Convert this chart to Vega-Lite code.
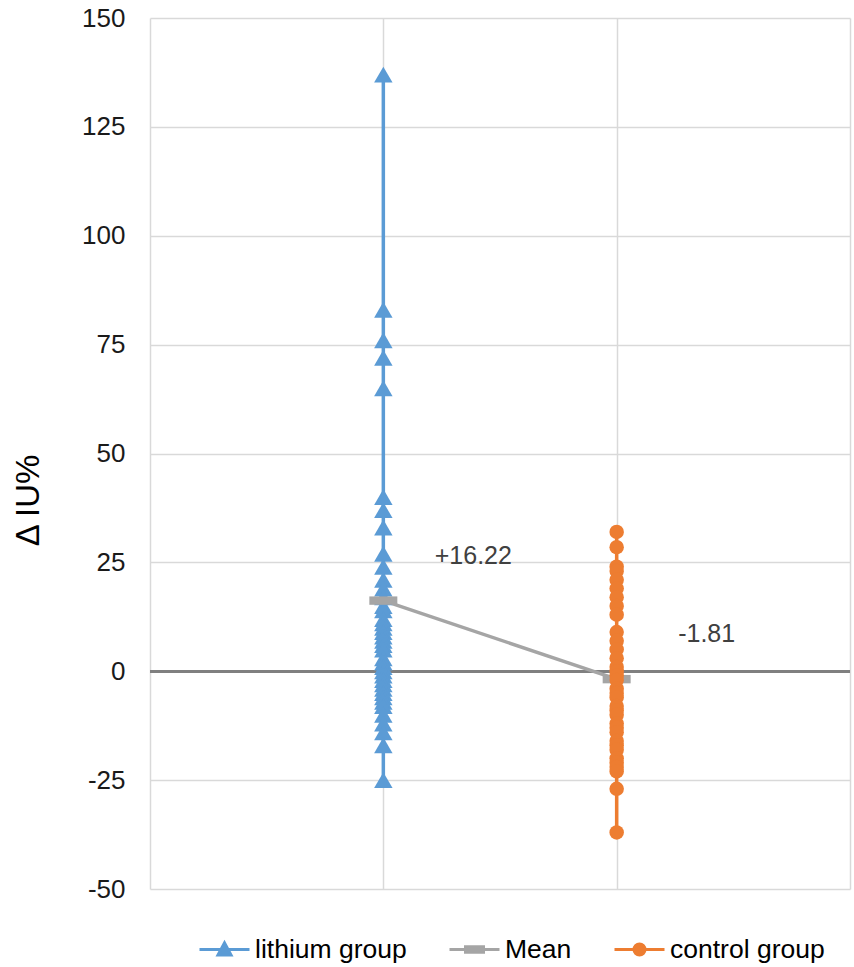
{
  "$schema": "https://vega.github.io/schema/vega-lite/v6.json",
  "autosize": {"type": "none"},
  "padding": {"left": 150, "top": 18, "right": 4, "bottom": 78},
  "width": 700,
  "height": 871,
  "config": {
    "font": "Liberation Sans",
    "view": {"stroke": null},
    "locale": {"number": {"decimal": ".", "thousands": ",", "grouping": [3], "currency": ["$", ""], "minus": "-"}}
  },
  "datasets": {
    "pts": [
      {"series": "lithium group", "group": 1, "value": 137},
      {"series": "lithium group", "group": 1, "value": 83},
      {"series": "lithium group", "group": 1, "value": 76},
      {"series": "lithium group", "group": 1, "value": 72},
      {"series": "lithium group", "group": 1, "value": 65},
      {"series": "lithium group", "group": 1, "value": 40},
      {"series": "lithium group", "group": 1, "value": 37},
      {"series": "lithium group", "group": 1, "value": 33},
      {"series": "lithium group", "group": 1, "value": 27},
      {"series": "lithium group", "group": 1, "value": 24},
      {"series": "lithium group", "group": 1, "value": 21},
      {"series": "lithium group", "group": 1, "value": 19},
      {"series": "lithium group", "group": 1, "value": 17},
      {"series": "lithium group", "group": 1, "value": 15},
      {"series": "lithium group", "group": 1, "value": 14},
      {"series": "lithium group", "group": 1, "value": 12},
      {"series": "lithium group", "group": 1, "value": 11},
      {"series": "lithium group", "group": 1, "value": 10},
      {"series": "lithium group", "group": 1, "value": 9},
      {"series": "lithium group", "group": 1, "value": 8},
      {"series": "lithium group", "group": 1, "value": 7},
      {"series": "lithium group", "group": 1, "value": 6},
      {"series": "lithium group", "group": 1, "value": 5},
      {"series": "lithium group", "group": 1, "value": 3},
      {"series": "lithium group", "group": 1, "value": 2},
      {"series": "lithium group", "group": 1, "value": 1},
      {"series": "lithium group", "group": 1, "value": 0},
      {"series": "lithium group", "group": 1, "value": -1},
      {"series": "lithium group", "group": 1, "value": -2},
      {"series": "lithium group", "group": 1, "value": -3},
      {"series": "lithium group", "group": 1, "value": -4},
      {"series": "lithium group", "group": 1, "value": -5},
      {"series": "lithium group", "group": 1, "value": -6},
      {"series": "lithium group", "group": 1, "value": -7},
      {"series": "lithium group", "group": 1, "value": -8},
      {"series": "lithium group", "group": 1, "value": -10},
      {"series": "lithium group", "group": 1, "value": -12},
      {"series": "lithium group", "group": 1, "value": -14},
      {"series": "lithium group", "group": 1, "value": -17},
      {"series": "lithium group", "group": 1, "value": -25},
      {"series": "Mean", "group": 1, "value": 16.22},
      {"series": "Mean", "group": 2, "value": -1.81},
      {"series": "control group", "group": 2, "value": 32},
      {"series": "control group", "group": 2, "value": 28.5},
      {"series": "control group", "group": 2, "value": 24},
      {"series": "control group", "group": 2, "value": 23},
      {"series": "control group", "group": 2, "value": 21},
      {"series": "control group", "group": 2, "value": 19},
      {"series": "control group", "group": 2, "value": 17},
      {"series": "control group", "group": 2, "value": 15},
      {"series": "control group", "group": 2, "value": 13},
      {"series": "control group", "group": 2, "value": 9},
      {"series": "control group", "group": 2, "value": 7},
      {"series": "control group", "group": 2, "value": 5},
      {"series": "control group", "group": 2, "value": 3},
      {"series": "control group", "group": 2, "value": 1},
      {"series": "control group", "group": 2, "value": 0},
      {"series": "control group", "group": 2, "value": -1},
      {"series": "control group", "group": 2, "value": -2},
      {"series": "control group", "group": 2, "value": -4},
      {"series": "control group", "group": 2, "value": -5},
      {"series": "control group", "group": 2, "value": -6},
      {"series": "control group", "group": 2, "value": -8},
      {"series": "control group", "group": 2, "value": -9},
      {"series": "control group", "group": 2, "value": -10},
      {"series": "control group", "group": 2, "value": -12},
      {"series": "control group", "group": 2, "value": -13},
      {"series": "control group", "group": 2, "value": -14},
      {"series": "control group", "group": 2, "value": -16},
      {"series": "control group", "group": 2, "value": -17},
      {"series": "control group", "group": 2, "value": -18},
      {"series": "control group", "group": 2, "value": -20},
      {"series": "control group", "group": 2, "value": -21},
      {"series": "control group", "group": 2, "value": -22},
      {"series": "control group", "group": 2, "value": -23},
      {"series": "control group", "group": 2, "value": -27},
      {"series": "control group", "group": 2, "value": -37}
    ]
  },
  "data": {"name": "pts"},
  "encoding": {
    "x": {
      "field": "group", "type": "quantitative",
      "scale": {"domain": [0, 3], "nice": false, "zero": false},
      "axis": {"values": [0, 1, 2, 3], "labels": false, "ticks": false, "domain": false, "title": null, "grid": true, "gridColor": "#D9D9D9", "gridWidth": 1.5}
    },
    "y": {
      "field": "value", "type": "quantitative",
      "scale": {"domain": [-50, 150], "nice": false},
      "axis": {
        "values": [-50, -25, 0, 25, 50, 75, 100, 125, 150],
        "ticks": false, "domain": false, "grid": true, "gridColor": "#D9D9D9", "gridWidth": 1.5,
        "labelFontSize": 26, "labelColor": "#1a1a1a", "labelPadding": 25,
        "title": "Δ IU%", "titleFontSize": 33, "titleFontWeight": "normal", "titleColor": "#000000",
        "titleX": -122, "titleY": 482, "titleAngle": -90, "titleAlign": "center", "titleBaseline": "middle"
      }
    }
  },
  "layer": [
    {
      "mark": {"type": "rule", "color": "#808080", "strokeWidth": 2.5},
      "encoding": {"x": {"datum": 0}, "x2": {"datum": 3}, "y": {"datum": 0}}
    },
    {
      "mark": {"type": "line", "strokeWidth": 3.5},
      "encoding": {
        "order": {"field": "value", "type": "quantitative"},
        "color": {
          "field": "series", "type": "nominal",
          "scale": {"domain": ["lithium group", "Mean", "control group"], "range": ["#5B9BD5", "#A5A5A5", "#ED7D31"]},
          "legend": {
            "orient": "none", "direction": "horizontal", "title": null,
            "legendX": 48, "legendY": 905,
            "labelFontSize": 26.5, "labelColor": "#000000", "labelOffset": 4, "labelLimit": 0,
            "symbolSize": 2500, "symbolStrokeWidth": 3, "columnPadding": 36,
            "encode": {
              "symbols": {
                "update": {
                  "shape": {"signal": "datum.value === 'lithium group' ? 'M-1,0L1,0M-0.26,0.22L0,-0.26L0.26,0.22Z' : datum.value === 'Mean' ? 'M-1,0L1,0M-0.36,-0.11L0.36,-0.11L0.36,0.11L-0.36,0.11Z' : 'M-1,0L1,0M-0.22,0A0.22,0.22,0,1,0,0.22,0A0.22,0.22,0,1,0,-0.22,0Z'"},
                  "fill": {"signal": "datum.value === 'lithium group' ? '#5B9BD5' : datum.value === 'Mean' ? '#A5A5A5' : '#ED7D31'"},
                  "stroke": {"signal": "datum.value === 'lithium group' ? '#5B9BD5' : datum.value === 'Mean' ? '#A5A5A5' : '#ED7D31'"},
                  "strokeWidth": {"value": 3},
                  "opacity": {"value": 1}
                }
              }
            }
          }
        }
      }
    },
    {
      "transform": [{"filter": "datum.series === 'lithium group'"}],
      "mark": {"type": "point", "shape": "triangle-up", "filled": true, "size": 340, "color": "#5B9BD5", "opacity": 1}
    },
    {
      "transform": [{"filter": "datum.series === 'Mean'"}],
      "mark": {"type": "point", "shape": "M-1,-0.3L1,-0.3L1,0.3L-1,0.3Z", "filled": true, "size": 784, "color": "#A5A5A5", "opacity": 1}
    },
    {
      "transform": [{"filter": "datum.series === 'control group'"}],
      "mark": {"type": "point", "shape": "circle", "filled": true, "size": 210, "color": "#ED7D31", "opacity": 1}
    },
    {
      "transform": [{"filter": "datum.series === 'Mean'"}],
      "mark": {"type": "text", "fontSize": 25, "color": "#404040", "dx": 90, "dy": -45, "align": "center", "baseline": "middle"},
      "encoding": {"text": {"field": "value", "type": "quantitative", "format": "+.2f"}}
    }
  ]
}
